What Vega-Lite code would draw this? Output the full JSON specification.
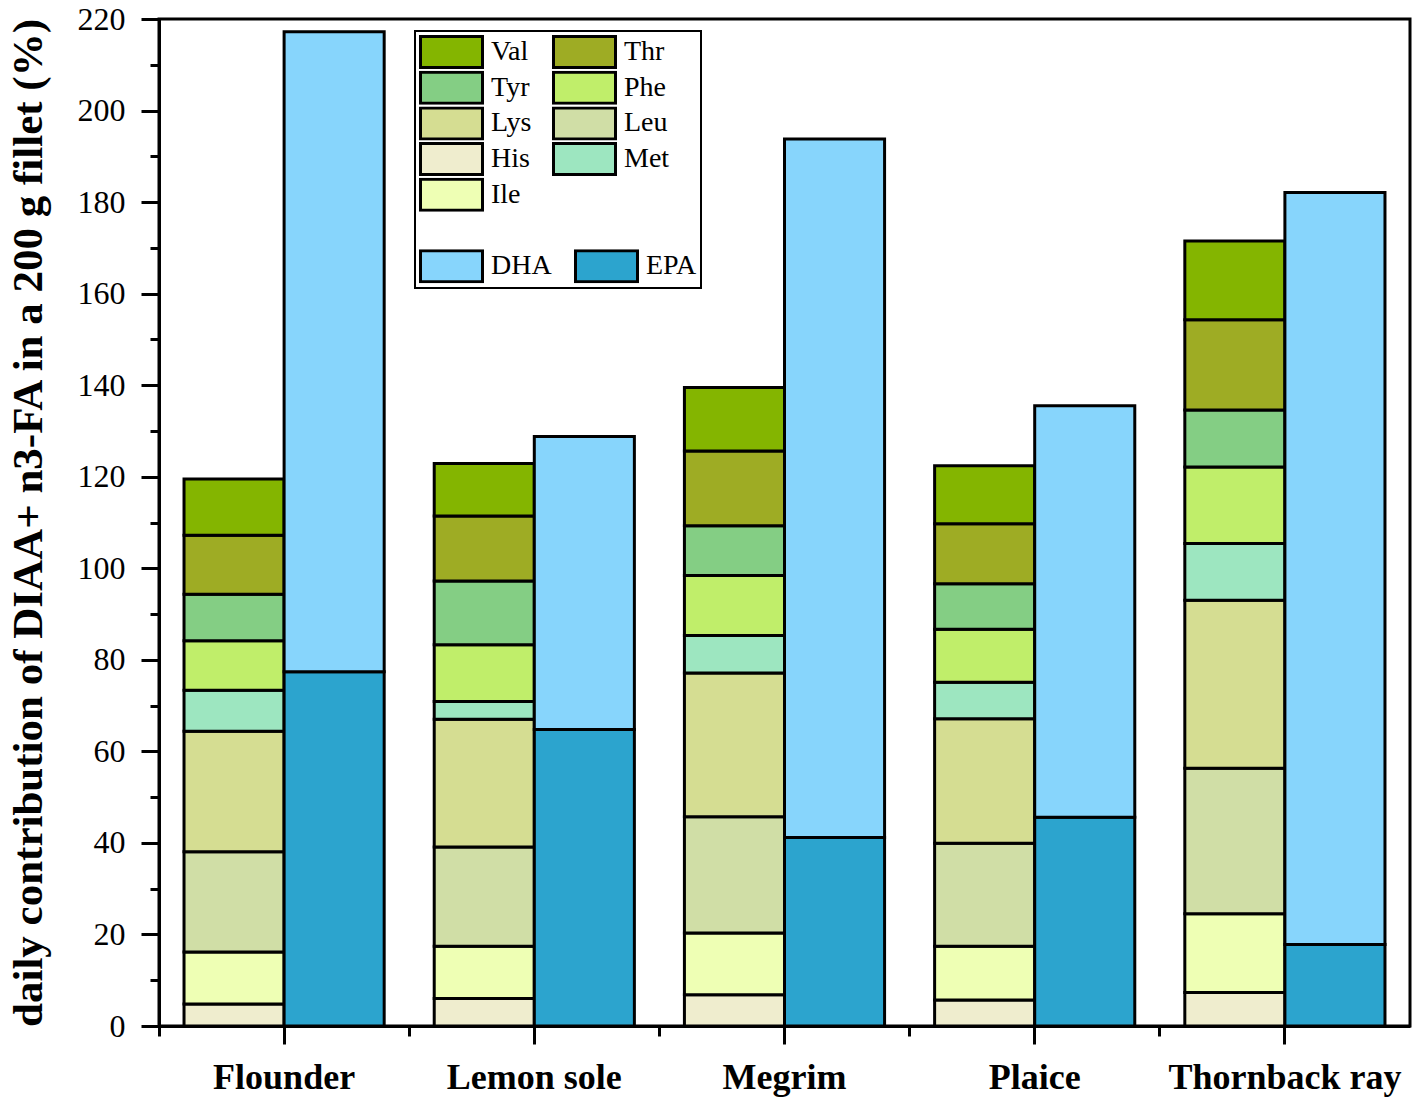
{
  "$schema": "https://vega.github.io/schema/vega-lite/v6.json",
  "width": 1251,
  "height": 1007,
  "autosize": "none",
  "padding": {"left": 159, "top": 19, "right": 8, "bottom": 78},
  "background": "white",
  "data": {
    "values": [
      {"fish": "Flounder", "part": "AA", "comp": "His", "value": 4.8, "k": 1},
      {"fish": "Flounder", "part": "AA", "comp": "Ile", "value": 11.35, "k": 2},
      {"fish": "Flounder", "part": "AA", "comp": "Leu", "value": 21.9, "k": 3},
      {"fish": "Flounder", "part": "AA", "comp": "Lys", "value": 26.35, "k": 4},
      {"fish": "Flounder", "part": "AA", "comp": "Met", "value": 8.95, "k": 5},
      {"fish": "Flounder", "part": "AA", "comp": "Phe", "value": 10.8, "k": 6},
      {"fish": "Flounder", "part": "AA", "comp": "Tyr", "value": 10.15, "k": 7},
      {"fish": "Flounder", "part": "AA", "comp": "Thr", "value": 12.9, "k": 8},
      {"fish": "Flounder", "part": "AA", "comp": "Val", "value": 12.3, "k": 9},
      {"fish": "Flounder", "part": "FA", "comp": "EPA", "value": 77.4, "k": 1},
      {"fish": "Flounder", "part": "FA", "comp": "DHA", "value": 139.8, "k": 2},
      {"fish": "Lemon sole", "part": "AA", "comp": "His", "value": 6.0, "k": 1},
      {"fish": "Lemon sole", "part": "AA", "comp": "Ile", "value": 11.4, "k": 2},
      {"fish": "Lemon sole", "part": "AA", "comp": "Leu", "value": 21.7, "k": 3},
      {"fish": "Lemon sole", "part": "AA", "comp": "Lys", "value": 27.9, "k": 4},
      {"fish": "Lemon sole", "part": "AA", "comp": "Met", "value": 3.9, "k": 5},
      {"fish": "Lemon sole", "part": "AA", "comp": "Phe", "value": 12.4, "k": 6},
      {"fish": "Lemon sole", "part": "AA", "comp": "Tyr", "value": 13.9, "k": 7},
      {"fish": "Lemon sole", "part": "AA", "comp": "Thr", "value": 14.2, "k": 8},
      {"fish": "Lemon sole", "part": "AA", "comp": "Val", "value": 11.5, "k": 9},
      {"fish": "Lemon sole", "part": "FA", "comp": "EPA", "value": 64.8, "k": 1},
      {"fish": "Lemon sole", "part": "FA", "comp": "DHA", "value": 64.0, "k": 2},
      {"fish": "Megrim", "part": "AA", "comp": "His", "value": 6.8, "k": 1},
      {"fish": "Megrim", "part": "AA", "comp": "Ile", "value": 13.5, "k": 2},
      {"fish": "Megrim", "part": "AA", "comp": "Leu", "value": 25.4, "k": 3},
      {"fish": "Megrim", "part": "AA", "comp": "Lys", "value": 31.4, "k": 4},
      {"fish": "Megrim", "part": "AA", "comp": "Met", "value": 8.2, "k": 5},
      {"fish": "Megrim", "part": "AA", "comp": "Phe", "value": 13.1, "k": 6},
      {"fish": "Megrim", "part": "AA", "comp": "Tyr", "value": 10.9, "k": 7},
      {"fish": "Megrim", "part": "AA", "comp": "Thr", "value": 16.3, "k": 8},
      {"fish": "Megrim", "part": "AA", "comp": "Val", "value": 13.9, "k": 9},
      {"fish": "Megrim", "part": "FA", "comp": "EPA", "value": 41.2, "k": 1},
      {"fish": "Megrim", "part": "FA", "comp": "DHA", "value": 152.6, "k": 2},
      {"fish": "Plaice", "part": "AA", "comp": "His", "value": 5.7, "k": 1},
      {"fish": "Plaice", "part": "AA", "comp": "Ile", "value": 11.7, "k": 2},
      {"fish": "Plaice", "part": "AA", "comp": "Leu", "value": 22.5, "k": 3},
      {"fish": "Plaice", "part": "AA", "comp": "Lys", "value": 27.2, "k": 4},
      {"fish": "Plaice", "part": "AA", "comp": "Met", "value": 8.0, "k": 5},
      {"fish": "Plaice", "part": "AA", "comp": "Phe", "value": 11.6, "k": 6},
      {"fish": "Plaice", "part": "AA", "comp": "Tyr", "value": 9.9, "k": 7},
      {"fish": "Plaice", "part": "AA", "comp": "Thr", "value": 13.1, "k": 8},
      {"fish": "Plaice", "part": "AA", "comp": "Val", "value": 12.7, "k": 9},
      {"fish": "Plaice", "part": "FA", "comp": "EPA", "value": 45.6, "k": 1},
      {"fish": "Plaice", "part": "FA", "comp": "DHA", "value": 89.9, "k": 2},
      {"fish": "Thornback ray", "part": "AA", "comp": "His", "value": 7.3, "k": 1},
      {"fish": "Thornback ray", "part": "AA", "comp": "Ile", "value": 17.2, "k": 2},
      {"fish": "Thornback ray", "part": "AA", "comp": "Leu", "value": 31.8, "k": 3},
      {"fish": "Thornback ray", "part": "AA", "comp": "Lys", "value": 36.7, "k": 4},
      {"fish": "Thornback ray", "part": "AA", "comp": "Met", "value": 12.4, "k": 5},
      {"fish": "Thornback ray", "part": "AA", "comp": "Phe", "value": 16.7, "k": 6},
      {"fish": "Thornback ray", "part": "AA", "comp": "Tyr", "value": 12.5, "k": 7},
      {"fish": "Thornback ray", "part": "AA", "comp": "Thr", "value": 19.7, "k": 8},
      {"fish": "Thornback ray", "part": "AA", "comp": "Val", "value": 17.2, "k": 9},
      {"fish": "Thornback ray", "part": "FA", "comp": "EPA", "value": 17.8, "k": 1},
      {"fish": "Thornback ray", "part": "FA", "comp": "DHA", "value": 164.3, "k": 2}
    ]
  },
  "encoding": {
    "x": {
      "field": "fish",
      "type": "nominal",
      "sort": ["Flounder", "Lemon sole", "Megrim", "Plaice", "Thornback ray"],
      "scale": {"paddingInner": 0.2, "paddingOuter": 0.1}
    },
    "xOffset": {
      "field": "part",
      "type": "nominal",
      "sort": ["AA", "FA"],
      "scale": {"paddingInner": 0, "paddingOuter": 0}
    },
    "y": {
      "field": "value",
      "type": "quantitative",
      "stack": "zero",
      "scale": {"domain": [0, 220], "nice": false}
    }
  },
  "layer": [
    {
      "mark": {"type": "bar", "stroke": "black", "strokeWidth": 3},
      "encoding": {
        "x": {
          "field": "fish",
          "type": "nominal",
          "sort": ["Flounder", "Lemon sole", "Megrim", "Plaice", "Thornback ray"],
          "axis": {
            "title": null,
            "labelAngle": 0,
            "labelLimit": 0,
            "labelFont": "Liberation Serif",
            "labelFontSize": 36,
            "labelFontWeight": "bold",
            "labelColor": "black",
            "labelPadding": 16,
            "tickSize": 18,
            "tickWidth": 3,
            "tickColor": "black",
            "domainWidth": 3,
            "domainColor": "black"
          }
        },
        "y": {
          "field": "value",
          "type": "quantitative",
          "stack": "zero",
          "axis": {
            "title": "daily contribution of DIAA+ n3-FA in a 200 g fillet (%)",
            "titleFont": "Liberation Serif",
            "titleFontSize": 43,
            "titleFontWeight": "bold",
            "titleColor": "black",
            "titlePadding": 27,
            "values": [0, 20, 40, 60, 80, 100, 120, 140, 160, 180, 200, 220],
            "labelFont": "Liberation Serif",
            "labelFontSize": 32,
            "labelColor": "black",
            "labelPadding": 16,
            "tickSize": 18,
            "tickWidth": 3,
            "tickColor": "black",
            "domainWidth": 3,
            "domainColor": "black"
          }
        },
        "color": {
          "field": "comp",
          "type": "nominal",
          "scale": {
            "domain": ["His", "Ile", "Leu", "Lys", "Met", "Phe", "Tyr", "Thr", "Val", "EPA", "DHA", "_1", "_2", "_3"],
            "range": ["#EFEDCE", "#EEFFB4", "#D0DEA6", "#D5DD92", "#9DE6C0", "#C0EE6A", "#84CE84", "#9EAC24", "#84B500", "#2CA4CE", "#87D5FC", "#ffffff", "#ffffff", "#ffffff"]
          },
          "legend": {
            "orient": "none",
            "legendX": 256,
            "legendY": 12,
            "title": null,
            "direction": "horizontal",
            "columns": 2,
            "values": ["Val", "Thr", "Tyr", "Phe", "Lys", "Leu", "His", "Met", "Ile", "_1", "_2", "_3", "DHA", "EPA"],
            "symbolType": "M-1,-1H3V1H-1Z",
            "symbolSize": 961,
            "symbolStrokeColor": "black",
            "symbolStrokeWidth": 3,
            "symbolOpacity": 1,
            "clipHeight": 34,
            "labelFont": "Liberation Serif",
            "labelFontSize": 28,
            "labelColor": "black",
            "labelOffset": 38,
            "labelLimit": 0,
            "rowPadding": 1.7,
            "columnPadding": 0,
            "padding": 4,
            "strokeColor": "black",
            "encode": {
              "legend": {
                "update": {"strokeWidth": {"value": 2}}
              },
              "symbols": {
                "update": {
                  "x": {"signal": "datum.value === 'EPA' ? 39 : 17"},
                  "strokeOpacity": {"signal": "indexof(['_1', '_2', '_3'], datum.value) >= 0 ? 0 : 1"}
                }
              },
              "labels": {
                "update": {
                  "x": {"signal": "datum.value === 'EPA' ? 94 : 72"},
                  "opacity": {"signal": "indexof(['_1', '_2', '_3'], datum.value) >= 0 ? 0 : 1"}
                }
              }
            }
          }
        },
        "order": {"field": "k", "type": "quantitative", "sort": "ascending"}
      }
    },
    {
      "mark": {"type": "bar", "opacity": 0},
      "encoding": {
        "x": {
          "field": "fish",
          "type": "nominal",
          "sort": ["Flounder", "Lemon sole", "Megrim", "Plaice", "Thornback ray"],
          "axis": {
            "orient": "bottom",
            "title": null,
            "labels": false,
            "domain": false,
            "bandPosition": -0.125,
            "tickSize": 10,
            "tickWidth": 3,
            "tickColor": "black"
          }
        },
        "y": {
          "field": "value",
          "type": "quantitative",
          "stack": "zero",
          "axis": {
            "orient": "left",
            "title": null,
            "labels": false,
            "domain": false,
            "values": [10, 30, 50, 70, 90, 110, 130, 150, 170, 190, 210],
            "tickSize": 9,
            "tickWidth": 3,
            "tickColor": "black"
          }
        }
      }
    }
  ],
  "resolve": {"axis": {"x": "independent", "y": "independent"}},
  "config": {
    "axis": {"grid": false},
    "view": {"stroke": "black", "strokeWidth": 3}
  }
}
